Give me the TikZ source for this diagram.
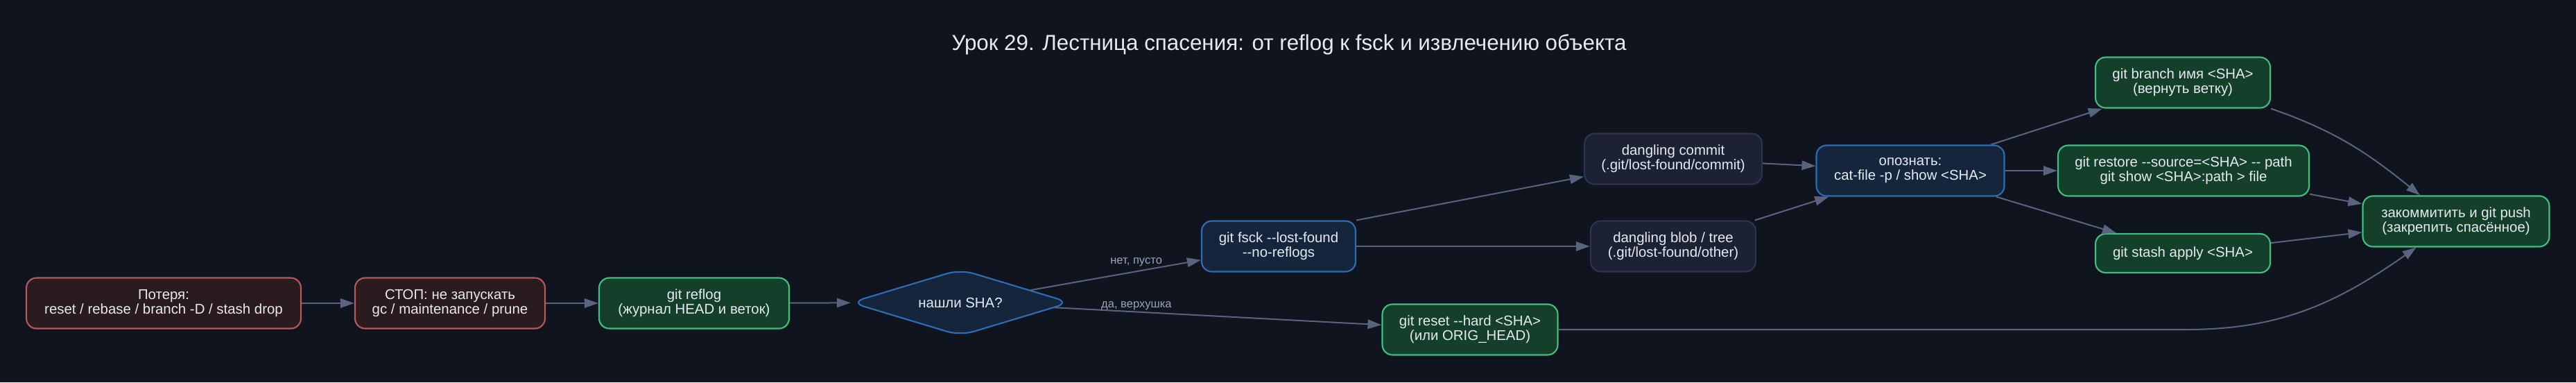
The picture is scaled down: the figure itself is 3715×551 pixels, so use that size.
\documentclass[tikz,border=0pt]{standalone}
\usepackage{fontspec}
\setmainfont{Liberation Sans}[Ligatures=TeXOff]
\usepackage{tikz}
\usetikzlibrary{shapes.geometric,arrows.meta}

\definecolor{bgc}{HTML}{10141F}
\definecolor{txt}{HTML}{E6EAF0}
\definecolor{lbltxt}{HTML}{9AA3B5}
\definecolor{edgec}{HTML}{58647F}
\definecolor{lossfill}{HTML}{2A1B1E}
\definecolor{lossdraw}{HTML}{B35A5E}
\definecolor{okfill}{HTML}{133F2B}
\definecolor{okdraw}{HTML}{3FBE80}
\definecolor{askfill}{HTML}{15263C}
\definecolor{askdraw}{HTML}{2D6DB6}
\definecolor{rawfill}{HTML}{1C2133}
\definecolor{rawdraw}{HTML}{2B3550}

\begin{document}
\begin{tikzpicture}[x=0.75pt,y=-0.75pt]
	\tikzstyle{box} = [rectangle, rounded corners=11pt, line width=1.6pt, inner sep=0pt, minimum height=54.75pt, align=center, text=txt, font=\fontsize{15.3}{15.8}\selectfont]
	\tikzstyle{lossbox} = [box, fill=lossfill, draw=lossdraw]
	\tikzstyle{okbox} = [box, fill=okfill, draw=okdraw]
	\tikzstyle{askbox} = [box, fill=askfill, draw=askdraw]
	\tikzstyle{rawbox} = [box, fill=rawfill, draw=rawdraw]
	\tikzstyle{askdiam} = [diamond, aspect=3.27, rounded corners=15pt, line width=1.6pt, inner sep=0pt, minimum width=237.75pt, minimum height=72pt, fill=askfill, draw=askdraw, text=txt, font=\fontsize{15.3}{15.8}\selectfont]
	\tikzstyle{edge} = [draw=edgec, line width=1.5pt, -{Triangle[length=15pt,width=10pt]}]
	\tikzstyle{lbl} = [text=lbltxt, font=\fontsize{12.4}{13}\selectfont, inner sep=1pt]
	\fill[bgc] (0,0) rectangle (3715,551);
	\useasboundingbox (0,0) rectangle (3715,551);
		\node[text=txt, font=\fontsize{23.5}{25}\selectfont] (title) at (1859,64) {Урок 29. Лестница спасения: от reflog к fsck и извлечению объекта};
		\node[lossbox, minimum width=297pt] (loss) at (236,437) {Потеря:\\reset / rebase / branch -D / stash drop};
		\node[lossbox, minimum width=205.5pt] (stop) at (649,437) {СТОП: не запускать\\gc / maintenance / prune};
		\node[okbox, minimum width=205.5pt] (reflog) at (1001,437) {git reflog\\(журнал HEAD и веток)};
		\node[askdiam] (found) at (1385,436) {нашли SHA?};
		\node[askbox, minimum width=166.5pt] (fsck) at (1844,355) {git fsck --lost-found\\--no-reflogs};
		\node[okbox, minimum width=189.75pt] (reset) at (2120,475) {git reset --hard <SHA>\\(или ORIG\_HEAD)};
		\node[rawbox, minimum width=192pt] (dcommit) at (2413,229) {dangling commit\\(.git/lost-found/commit)};
		\node[rawbox, minimum width=178.5pt] (dblob) at (2413,355) {dangling blob / tree\\(.git/lost-found/other)};
		\node[askbox, minimum width=203.25pt] (ident) at (2755,246) {опознать:\\cat-file -p / show <SHA>};
		\node[okbox, minimum width=189pt] (branch) at (3148,119) {git branch имя <SHA>\\(вернуть ветку)};
		\node[okbox, minimum width=271.5pt] (restore) at (3149,246) {git restore --source=<SHA> -- path\\git show <SHA>:path > file};
		\node[okbox, minimum width=189pt, minimum height=42pt] (stash) at (3148,365) {git stash apply <SHA>};
		\node[okbox, minimum width=201.75pt] (push) at (3542,319) {закоммитить и git push\\(закрепить спасённое)};
	\draw[edge] (loss) -- (stop);
	\draw[edge] (stop) -- (reflog);
	\draw[edge] (reflog) -- (found);
	\draw[edge] (found) -- node[lbl, pos=0.62, above=4pt] {нет, пусто} (fsck);
	\draw[edge] (found) -- node[lbl, pos=0.25, above=0pt] {да, верхушка} (reset);
	\draw[edge] (fsck.north east) -- ([yshift=9pt]dcommit.south west);
	\draw[edge] (fsck) -- (dblob);
	\draw[edge] (dcommit) -- (ident);
	\draw[edge] (dblob) -- (ident);
	\draw[edge] (ident) -- (branch);
	\draw[edge] (ident) -- (restore);
	\draw[edge] (ident) -- (stash);
	\draw[edge] (branch.south east) to[out=-19, in=141] ([xshift=-39pt]push.north);
	\draw[edge] (restore) -- (push);
	\draw[edge] (stash) -- (push);
	\draw[edge] (reset.east) -- ++(905,0) to[out=0, in=-145] ([xshift=-43pt]push.south);
\end{tikzpicture}
\end{document}
